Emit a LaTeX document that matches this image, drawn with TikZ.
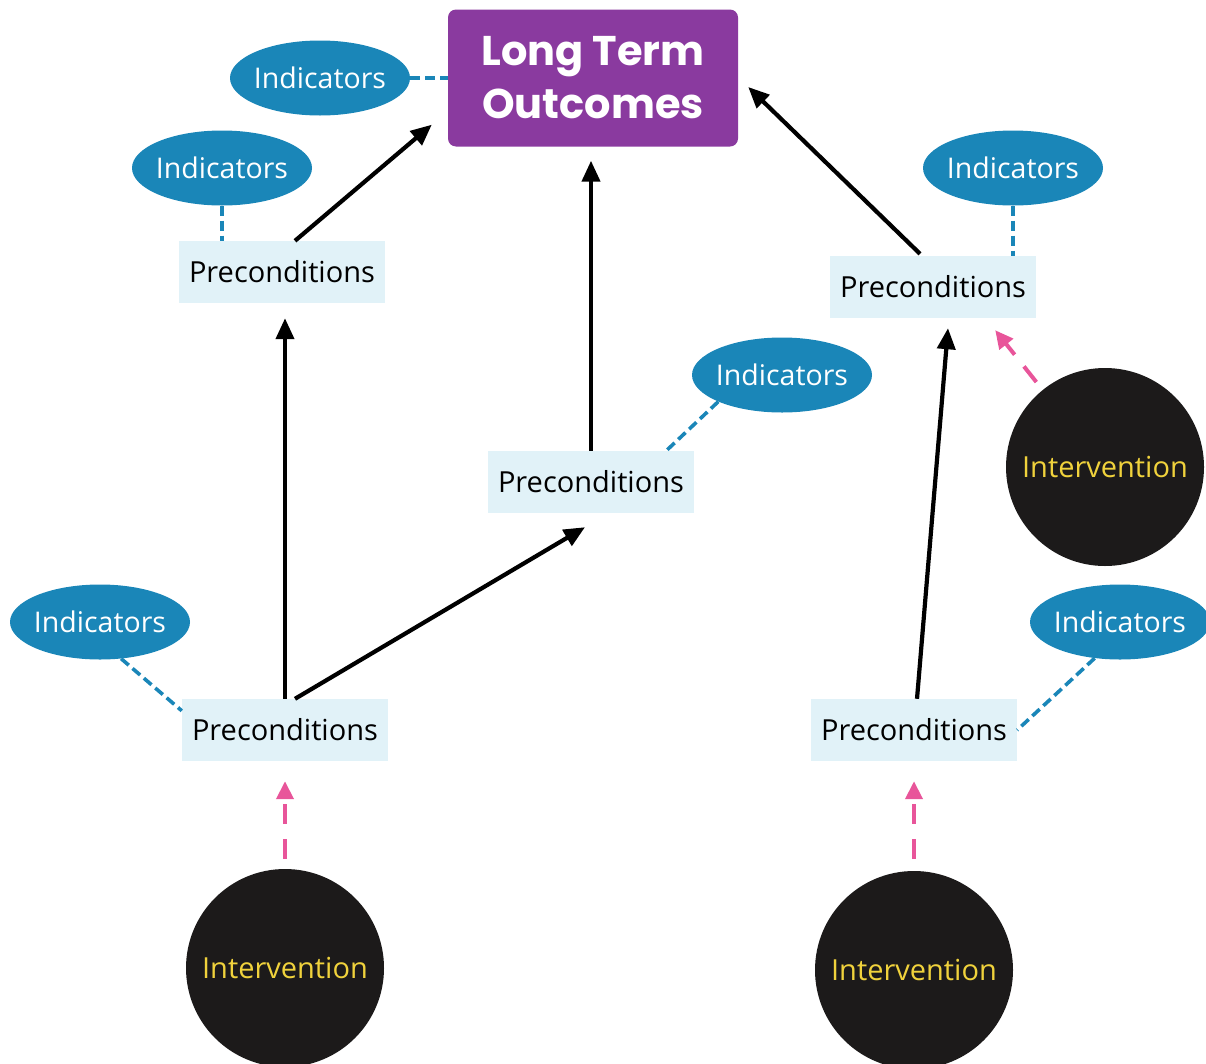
\documentclass[tikz,border=0pt]{standalone}
\usepackage{fontspec}
\setmainfont{Open Sans}
\newfontfamily\titlefont{Poppins}
\usetikzlibrary{shapes.geometric,arrows.meta,calc}

\definecolor{ltopurple}{HTML}{8A3A9F}
\definecolor{indblue}{HTML}{1A86B8}
\definecolor{prefill}{HTML}{E1F2F8}
\definecolor{intfill}{HTML}{1C1A1A}
\definecolor{intyellow}{HTML}{F0D23C}
\definecolor{sparkpink}{HTML}{E8559A}

\begin{document}
\begin{tikzpicture}[x=1pt,y=-1pt,
  outcome/.style={fill=ltopurple, rounded corners=8pt, minimum width=290pt,
    minimum height=137pt, text=white, align=center, inner sep=0,
    font=\titlefont\bfseries\fontsize{41.5}{53}\selectfont},
  indic/.style={ellipse, fill=indblue, minimum width=180pt, minimum height=75pt,
    inner xsep=-10pt, inner ysep=0pt, text=white, font=\fontsize{28.5}{32}\selectfont},
  precond/.style={fill=prefill, minimum width=206pt, minimum height=62pt,
    inner sep=0, font=\fontsize{29}{32}\selectfont},
  interv/.style={circle, fill=intfill, minimum size=198pt, inner sep=0,
    text=intyellow, font=\fontsize{29}{32}\selectfont},
  cause/.style={line width=4.2pt, -{Triangle[length=21pt,width=18pt]}},
  link/.style={indblue, line width=3.6pt, dash pattern=on 10pt off 5pt},
  spark/.style={sparkpink, line width=4pt, dash pattern=on 20pt off 15pt,
    -{Triangle[length=18pt,width=17pt]}}
]
\useasboundingbox (0,0) rectangle (1206,1063);
\clip (0,0) rectangle (1206,1063);

% outcome and indicators
\node[outcome] (lto) at (593,78) {Long Term\\Outcomes};
\node[indic] (i1) at (320,78) {Indicators};
\node[indic] (i2) at (222,168) {Indicators};
\node[indic] (i3) at (782,375) {Indicators};
\node[indic] (i4) at (100,622) {Indicators};
\node[indic] (i5) at (1013,168) {Indicators};
\node[indic] (i6) at (1120,622) {Indicators};

% preconditions
\node[precond] (p1) at (282,272) {Preconditions};
\node[precond] (p2) at (285,730) {Preconditions};
\node[precond] (p3) at (591,482) {Preconditions};
\node[precond] (p4) at (933,287) {Preconditions};
\node[precond] (p5) at (914,730) {Preconditions};

% interventions
\node[interv] (v1) at (1105,467) {Intervention};
\node[interv] (v2) at (285,968) {Intervention};
\node[interv] (v3) at (914,970) {Intervention};

% indicator links
\draw[link] (i1.east) -- (lto.west);
\draw[link] (i2.south) -- (i2.south |- p1.north);
\draw[link] (i5.south) -- (i5.south |- p4.north);
\draw[link] (i3.south west) -- ($(p3.north east)+(-28,0)$);
\draw[link] (i4.300) -- ($(p2.north west)+(0,12)$);
\draw[link] (i6.235) -- (p5.east);

% causal links
\draw[cause] ($(p1.north)+(13,0)$) -- ($(lto.south west)+(-16,-22)$);
\draw[cause, shorten >=15pt] (p2.north) -- (p2.north |- p1.south);
\draw[cause] ($(p2.north)+(10,0)$) -- ($(p3.south)+(-6,14)$);
\draw[cause, shorten >=14pt] (p3.north) -- (p3.north |- lto.south);
\draw[cause] ($(p4.north)+(-13,-2)$) -- ($(lto.east)+(10,9)$);
\draw[cause] ($(p5.north)+(3,0)$) -- ($(p4.south)+(15,10)$);

% intervention links
\draw[spark, shorten <=10pt, shorten >=20pt] (v2.north) -- (p2.south);
\draw[spark, shorten <=12pt, shorten >=20pt] (v3.north) -- (p5.south);
\draw[spark, shorten <=10pt] (v1.129) -- ($(p4.south east)+(-41,12)$);
\end{tikzpicture}
\end{document}
